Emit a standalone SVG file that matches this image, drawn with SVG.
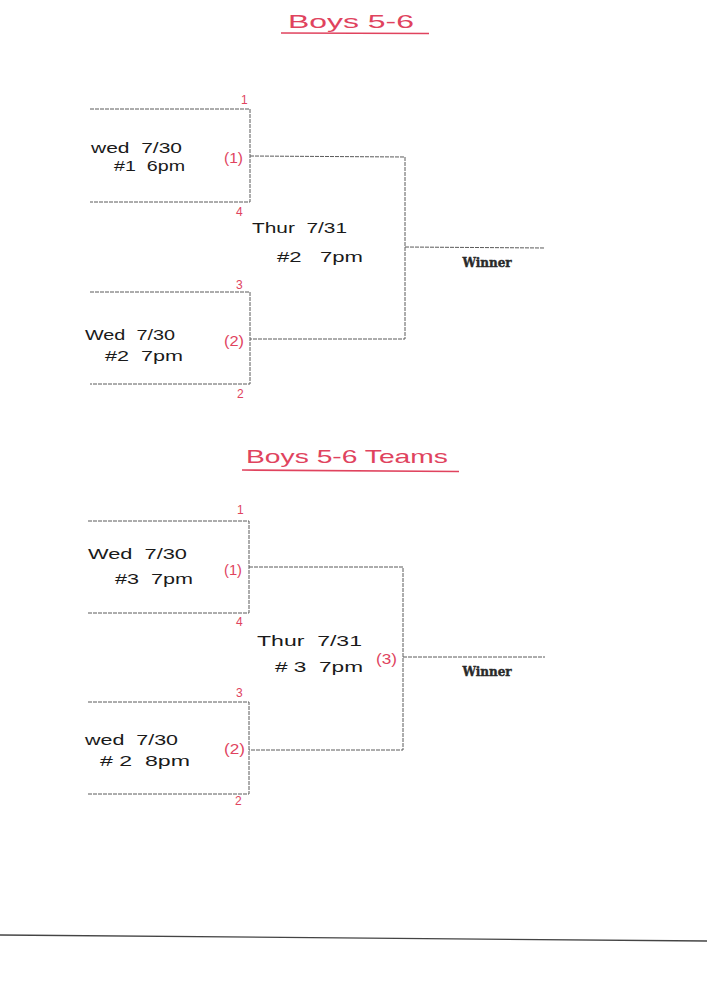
<svg xmlns="http://www.w3.org/2000/svg" width="707" height="1000" viewBox="0 0 707 1000">
<style>
.bg{fill:#ffffff}
.ln{stroke:#5a5a5a;stroke-width:1;fill:none;stroke-dasharray:4 1}
.title{font-family:"Liberation Sans","DejaVu Sans",sans-serif;font-size:19px;fill:#e0435e;font-weight:normal}
.ul{stroke:#e0435e;stroke-width:1.6}
.red{font-family:"Liberation Sans","DejaVu Sans",sans-serif;font-size:12px;fill:#e0435e}
.par{font-family:"Liberation Sans","DejaVu Sans",sans-serif;font-size:15px;fill:#e0435e}
.hw{font-family:"Liberation Sans","DejaVu Sans",sans-serif;font-size:15px;fill:#1a1a1a;white-space:pre}
.win{font-family:"DejaVu Serif","Liberation Serif",serif;font-size:12px;font-weight:bold;fill:#2a2a2a;stroke:#2a2a2a;stroke-width:0.4}
</style>
<rect class="bg" x="0" y="0" width="707" height="1000"/>

<g id="title1">
<text class="title" x="288" y="28" textLength="126" lengthAdjust="spacingAndGlyphs">Boys 5-6</text>
<line class="ul" x1="281" y1="33" x2="429" y2="33.5"/>
</g>
<g id="title2">
<text class="title" x="246" y="463" textLength="202" lengthAdjust="spacingAndGlyphs">Boys 5-6 Teams</text>
<line class="ul" x1="242" y1="470" x2="459" y2="471.5"/>
</g>

<g id="connectors">
<polyline class="ln" points="90,109 250,109 250,202 90,202"/>
<polyline class="ln" points="90,292 250,292 250,384 90,384"/>
<polyline class="ln" points="250,156 405,157 405,339 250,339"/>
<line class="ln" x1="405" y1="247" x2="545" y2="248"/>
<polyline class="ln" points="88,521 249,521 249,613 88,613"/>
<polyline class="ln" points="88,702 249,702 249,794 88,794"/>
<polyline class="ln" points="249,567 403,567 403,750 249,750"/>
<line class="ln" x1="403" y1="657" x2="545" y2="657"/>
</g>

<g id="game1">
<text class="hw" x="91" y="153" textLength="91" lengthAdjust="spacingAndGlyphs">wed  7/30</text>
<text class="hw" x="114" y="171" textLength="71" lengthAdjust="spacingAndGlyphs">#1  6pm</text>
<text class="par" x="224" y="163" textLength="19" lengthAdjust="spacingAndGlyphs">(1)</text>
<text class="red" x="241" y="104">1</text>
<text class="red" x="236" y="216">4</text>
</g>
<g id="game2">
<text class="hw" x="85" y="340" textLength="90" lengthAdjust="spacingAndGlyphs">Wed  7/30</text>
<text class="hw" x="105" y="361" textLength="78" lengthAdjust="spacingAndGlyphs">#2  7pm</text>
<text class="par" x="224" y="346" textLength="20" lengthAdjust="spacingAndGlyphs">(2)</text>
<text class="red" x="236" y="289">3</text>
<text class="red" x="237" y="398">2</text>
</g>
<g id="final1">
<text class="hw" x="252" y="233" textLength="95" lengthAdjust="spacingAndGlyphs">Thur  7/31</text>
<text class="hw" x="277" y="262" textLength="86" lengthAdjust="spacingAndGlyphs">#2   7pm</text>
<text class="win" x="487" y="267" text-anchor="middle">Winner</text>
</g>

<g id="game3">
<text class="hw" x="88" y="559" textLength="99" lengthAdjust="spacingAndGlyphs">Wed  7/30</text>
<text class="hw" x="115" y="584" textLength="78" lengthAdjust="spacingAndGlyphs">#3  7pm</text>
<text class="par" x="224" y="575" textLength="18" lengthAdjust="spacingAndGlyphs">(1)</text>
<text class="red" x="237" y="514">1</text>
<text class="red" x="236" y="626">4</text>
</g>
<g id="game4">
<text class="hw" x="85" y="745" textLength="93" lengthAdjust="spacingAndGlyphs">wed  7/30</text>
<text class="hw" x="100" y="766" textLength="90" lengthAdjust="spacingAndGlyphs"># 2  8pm</text>
<text class="par" x="224" y="754" textLength="21" lengthAdjust="spacingAndGlyphs">(2)</text>
<text class="red" x="236" y="697">3</text>
<text class="red" x="235" y="805">2</text>
</g>
<g id="final2">
<text class="hw" x="257" y="646" textLength="105" lengthAdjust="spacingAndGlyphs">Thur  7/31</text>
<text class="hw" x="275" y="672" textLength="88" lengthAdjust="spacingAndGlyphs"># 3  7pm</text>
<text class="par" x="376" y="664" textLength="21" lengthAdjust="spacingAndGlyphs">(3)</text>
<text class="win" x="487" y="676" text-anchor="middle">Winner</text>
</g>

<line x1="0" y1="935" x2="707" y2="941" stroke="#444" stroke-width="1.3"/>
</svg>
